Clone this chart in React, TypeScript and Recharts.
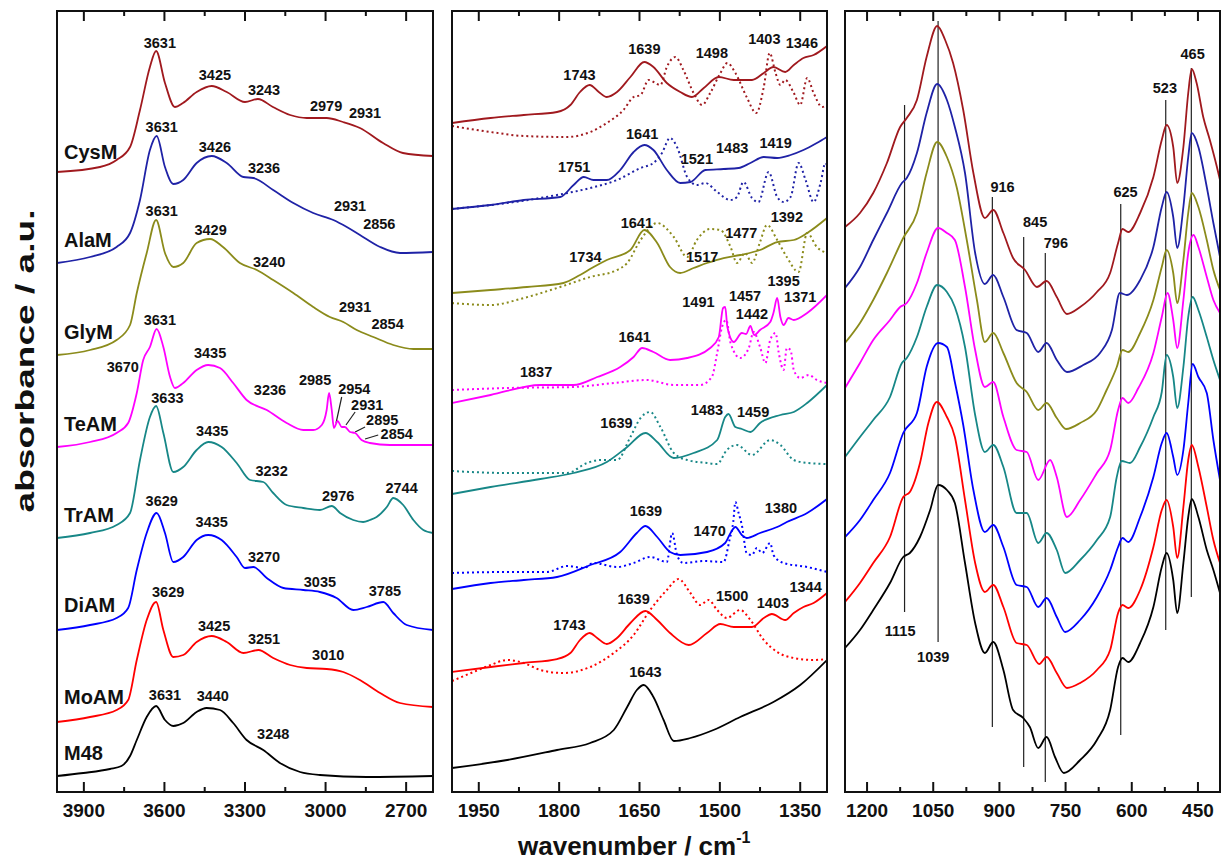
import { ComposedChart, Line, Scatter, XAxis, YAxis, ReferenceLine } from "recharts";

type Pt = [number, number];
type Tag = [string, number, number];

const FONT = '"Liberation Sans", Arial, Helvetica, sans-serif';
const PLOT_TOP = 11;
const PLOT_H = 781;
const CHART_H = 864;
const AXIS_H = 30;

const samples = ["CysM", "AlaM", "GlyM", "TeAM", "TrAM", "DiAM", "MoAM", "M48"];
const colors = ["#a0191e", "#1f22a6", "#8b8b1b", "#ff00ff", "#178787", "#0000ff", "#ff0000", "#000000"];
// vertical position (a.u.) of each sample name in the left panel
const nameLevels = [640, 552, 460, 368, 277, 187, 95, 39];

// ---- 4000-2600 cm-1 (OH / CH stretching) ----
const cysmOH: Pt[] = [[4000,620],[3840,625],[3778,632],[3728,645],[3691,682],[3654,725],[3631,741],[3598,709],[3561,685],[3531,689],[3480,700],[3424,706],[3368,700],[3300,690],[3252,693],[3196,685],[3132,677],[3070,674],[2996,674],[2935,670],[2872,664],[2786,649],[2712,639],[2600,636]];
const alamOH: Pt[] = [[4000,529],[3877,535],[3778,545],[3728,559],[3691,592],[3654,642],[3629,656],[3598,625],[3567,608],[3530,612],[3480,629],[3424,636],[3368,629],[3306,615],[3269,614],[3195,602],[3120,589],[3046,579],[2971,572],[2921,565],[2872,557],[2797,545],[2723,539],[2600,540]];
const glymOH: Pt[] = [[4000,437],[3877,442],[3778,452],[3728,467],[3703,499],[3666,539],[3631,572],[3598,539],[3567,525],[3530,529],[3480,549],[3430,553],[3382,545],[3319,529],[3256,522],[3195,512],[3120,499],[3046,485],[2984,475],[2934,470],[2884,462],[2822,455],[2748,447],[2673,443],[2600,443]];
const teamOH: Pt[] = [[4000,345],[3877,350],[3778,359],[3735,369],[3703,399],[3679,432],[3654,445],[3629,463],[3604,445],[3579,415],[3561,404],[3530,409],[3480,422],[3437,427],[3393,424],[3344,409],[3294,392],[3219,382],[3145,369],[3083,362],[3046,362],[3014,367],[2996,382],[2987,399],[2977,382],[2969,364],[2955,371],[2940,365],[2928,365],[2909,360],[2890,359],[2866,352],[2835,349],[2760,347],[2600,347]];
const tramOH: Pt[] = [[4000,254],[3877,259],[3778,267],[3728,279],[3691,332],[3654,375],[3631,386],[3604,359],[3567,320],[3530,325],[3480,342],[3437,350],[3387,345],[3331,329],[3281,312],[3232,310],[3195,299],[3145,287],[3083,284],[3021,282],[2977,286],[2946,279],[2897,272],[2860,270],[2835,272],[2810,275],[2772,285],[2748,294],[2711,287],[2673,272],[2636,262],[2600,259]];
const diamOH: Pt[] = [[4000,162],[3877,167],[3778,174],[3735,184],[3703,222],[3666,259],[3629,279],[3598,259],[3567,230],[3530,235],[3480,252],[3437,257],[3387,252],[3331,235],[3300,224],[3269,225],[3219,214],[3157,204],[3083,202],[3021,200],[2959,194],[2897,182],[2847,185],[2785,190],[2748,179],[2698,167],[2600,162]];
const moamOH: Pt[] = [[4000,70],[3877,75],[3778,82],[3735,92],[3703,132],[3666,172],[3631,190],[3604,162],[3567,135],[3530,137],[3480,150],[3424,156],[3368,150],[3306,139],[3250,142],[3195,134],[3132,127],[3070,124],[2996,123],[2934,120],[2872,112],[2797,99],[2723,89],[2600,85]];
const m48OH: Pt[] = [[4000,16],[3902,19],[3803,23],[3760,26],[3728,36],[3703,52],[3666,75],[3631,86],[3598,72],[3567,66],[3530,69],[3480,80],[3443,84],[3393,82],[3344,69],[3294,52],[3232,42],[3170,29],[3095,20],[3021,17],[2847,15],[2600,16]];

// ---- 2000-1300 cm-1, solid = sample, dotted = reference ----
const cysmMid: Pt[] = [[2000,669],[1928,674],[1866,677],[1804,680],[1779,687],[1761,700],[1743,707],[1726,700],[1711,695],[1692,700],[1667,715],[1641,730],[1624,725],[1599,709],[1574,700],[1552,695],[1530,704],[1502,715],[1474,712],[1440,712],[1418,719],[1400,725],[1378,720],[1362,727],[1344,734],[1325,737],[1300,746]];
const cysmRef: Pt[] = [[2000,666],[1928,660],[1866,656],[1785,655],[1742,660],[1711,669],[1680,682],[1661,695],[1648,697],[1633,712],[1611,707],[1599,725],[1583,735],[1568,722],[1549,699],[1533,687],[1518,699],[1499,719],[1486,729],[1471,719],[1450,695],[1432,679],[1418,705],[1407,739],[1396,719],[1387,707],[1378,712],[1362,699],[1350,687],[1337,714],[1325,699],[1309,685],[1300,687]];
const alamMid: Pt[] = [[2000,583],[1928,587],[1866,592],[1798,595],[1773,607],[1754,615],[1736,612],[1711,612],[1686,622],[1661,640],[1641,647],[1624,642],[1599,622],[1574,609],[1555,610],[1527,622],[1493,623],[1465,624],[1443,629],[1418,635],[1393,634],[1368,637],[1344,642],[1319,649],[1300,655]];
const alamRef: Pt[] = [[2000,583],[1897,589],[1804,597],[1742,604],[1692,612],[1648,624],[1624,629],[1608,639],[1593,654],[1580,645],[1561,615],[1543,607],[1527,609],[1505,600],[1480,592],[1468,595],[1456,610],[1440,594],[1428,590],[1409,620],[1393,595],[1381,590],[1368,595],[1353,629],[1340,612],[1325,590],[1312,609],[1303,629],[1300,627]];
const glymMid: Pt[] = [[2000,499],[1928,502],[1860,505],[1792,509],[1761,517],[1739,524],[1711,532],[1667,542],[1641,562],[1617,549],[1593,525],[1574,519],[1549,524],[1524,529],[1493,534],[1462,537],[1425,542],[1393,550],[1362,552],[1337,559],[1300,574]];
const glymRef: Pt[] = [[2000,489],[1928,487],[1866,494],[1804,504],[1742,515],[1692,522],[1673,529],[1648,552],[1617,569],[1586,555],[1561,535],[1543,552],[1518,563],[1499,562],[1480,545],[1468,529],[1453,539],[1440,529],[1425,550],[1412,567],[1393,552],[1375,535],[1353,520],[1337,559],[1319,545],[1300,539]];
const teamMid: Pt[] = [[2000,389],[1928,397],[1835,407],[1773,407],[1729,415],[1686,425],[1661,435],[1645,444],[1624,440],[1593,432],[1561,434],[1518,444],[1502,455],[1494,484],[1490,485],[1486,465],[1474,450],[1459,459],[1451,458],[1443,466],[1436,457],[1425,462],[1406,470],[1400,479],[1393,494],[1387,475],[1381,467],[1372,474],[1362,472],[1337,479],[1300,497]];
const teamRef: Pt[] = [[2000,402],[1897,404],[1773,405],[1698,409],[1636,412],[1586,407],[1537,407],[1515,415],[1505,439],[1496,465],[1488,472],[1480,449],[1462,434],[1446,444],[1437,460],[1425,445],[1415,429],[1406,452],[1396,459],[1390,439],[1381,422],[1375,444],[1368,442],[1362,422],[1350,414],[1334,417],[1319,412],[1300,409]];
const tramMid: Pt[] = [[2000,298],[1928,305],[1835,313],[1773,319],[1711,330],[1673,345],[1639,359],[1617,350],[1586,334],[1549,339],[1505,352],[1490,375],[1484,378],[1471,365],[1459,363],[1443,360],[1425,369],[1387,377],[1362,380],[1337,389],[1300,407]];
const tramRef: Pt[] = [[2000,321],[1897,319],[1785,319],[1748,329],[1723,332],[1692,332],[1667,355],[1648,374],[1630,380],[1611,365],[1586,339],[1561,332],[1524,329],[1505,328],[1487,342],[1468,347],[1440,337],[1406,352],[1387,347],[1362,332],[1337,329],[1300,328]];
const diamMid: Pt[] = [[2000,203],[1928,209],[1866,212],[1804,215],[1742,227],[1686,240],[1655,259],[1639,266],[1617,255],[1593,240],[1574,237],[1524,240],[1490,249],[1480,259],[1471,265],[1459,257],[1450,254],[1425,259],[1393,265],[1375,270],[1337,279],[1300,293]];
const diamRef: Pt[] = [[2000,219],[1897,220],[1823,220],[1785,226],[1754,224],[1736,229],[1692,225],[1661,229],[1630,235],[1599,230],[1589,259],[1580,237],[1568,229],[1530,231],[1493,230],[1482,252],[1475,270],[1471,290],[1465,279],[1459,267],[1450,239],[1440,237],[1431,244],[1421,239],[1406,249],[1400,237],[1381,229],[1337,225],[1300,220]];
const moamMid: Pt[] = [[2000,120],[1928,125],[1866,129],[1804,133],[1779,139],[1761,152],[1743,159],[1729,154],[1711,148],[1692,154],[1667,169],[1639,181],[1617,172],[1593,159],[1558,147],[1524,159],[1499,168],[1474,165],[1440,165],[1418,174],[1403,178],[1378,172],[1362,179],[1344,185],[1325,189],[1300,199]];
const moamRef: Pt[] = [[2000,111],[1960,120],[1928,127],[1897,132],[1866,129],[1835,122],[1792,119],[1742,125],[1698,139],[1661,157],[1630,182],[1599,202],[1577,213],[1555,199],[1537,187],[1521,192],[1505,182],[1487,174],[1462,182],[1443,172],[1418,152],[1393,140],[1362,134],[1325,132],[1300,133]];
const m48Mid: Pt[] = [[2000,24],[1897,32],[1804,42],[1742,49],[1698,62],[1673,85],[1655,102],[1642,107],[1624,95],[1605,72],[1586,51],[1555,54],[1512,62],[1462,75],[1400,90],[1350,107],[1300,132]];

// ---- 1250-400 cm-1 (framework) ----
const cysmLow: Pt[] = [[1250,565],[1216,579],[1186,599],[1155,629],[1125,665],[1110,674],[1087,692],[1065,735],[1041,766],[1023,752],[1005,729],[982,682],[959,619],[933,574],[914,582],[891,559],[869,534],[842,522],[815,505],[793,511],[770,495],[747,478],[717,485],[679,500],[649,519],[631,549],[621,563],[608,560],[581,579],[551,615],[532,652],[521,667],[506,645],[497,609],[483,645],[472,699],[464,723],[453,709],[438,675],[423,652],[407,625],[400,612]];
const alamLow: Pt[] = [[1250,504],[1216,525],[1186,552],[1155,579],[1121,609],[1110,614],[1087,639],[1065,679],[1041,708],[1019,692],[1001,665],[978,619],[955,539],[933,508],[914,517],[891,495],[861,462],[838,459],[812,440],[793,449],[770,432],[747,420],[710,427],[672,439],[645,462],[627,499],[611,497],[581,512],[551,545],[532,585],[521,600],[506,575],[497,544],[483,585],[472,635],[464,659],[449,645],[430,605],[415,569],[400,535]];
const glymLow: Pt[] = [[1250,449],[1216,469],[1186,492],[1155,519],[1118,554],[1087,579],[1065,619],[1041,650],[1019,635],[997,605],[974,552],[951,492],[933,450],[914,459],[891,439],[861,409],[838,400],[812,382],[793,389],[770,374],[749,363],[717,369],[679,382],[657,402],[634,425],[621,442],[608,440],[581,459],[551,492],[532,525],[521,542],[506,519],[497,489],[483,532],[472,579],[464,599],[449,585],[430,552],[415,522],[400,502]];
const teamLow: Pt[] = [[1250,404],[1216,429],[1186,452],[1148,472],[1125,485],[1110,489],[1087,509],[1065,539],[1039,564],[1019,559],[1001,552],[978,505],[955,442],[933,405],[914,410],[891,375],[861,342],[838,340],[812,312],[785,332],[770,315],[747,275],[717,292],[679,319],[649,342],[631,382],[621,394],[608,389],[585,404],[551,439],[532,475],[519,499],[506,472],[497,444],[483,492],[472,539],[460,557],[449,545],[430,515],[415,492],[400,479]];
const tramLow: Pt[] = [[1250,335],[1216,355],[1186,372],[1148,395],[1121,429],[1110,434],[1087,455],[1065,485],[1041,507],[1019,500],[1001,485],[978,445],[955,377],[933,340],[914,347],[891,325],[861,279],[838,279],[812,249],[793,259],[770,242],[751,219],[717,232],[679,252],[649,275],[634,315],[623,331],[604,329],[581,345],[551,375],[532,400],[521,437],[506,415],[497,384],[483,425],[472,475],[462,495],[449,482],[430,455],[415,432],[400,412]];
const diamLow: Pt[] = [[1250,255],[1216,272],[1186,292],[1148,319],[1118,359],[1087,379],[1065,425],[1039,449],[1019,445],[1001,410],[982,367],[959,302],[933,260],[914,267],[891,245],[861,207],[838,205],[812,185],[793,194],[770,175],[751,160],[717,172],[679,195],[649,222],[631,245],[621,254],[608,250],[581,275],[551,315],[532,349],[521,359],[506,335],[497,317],[483,342],[472,389],[462,428],[449,415],[430,399],[415,352],[400,312]];
const moamLow: Pt[] = [[1250,190],[1216,209],[1186,229],[1148,255],[1118,295],[1103,300],[1080,329],[1061,369],[1042,390],[1019,375],[1001,355],[978,292],[955,229],[933,200],[914,207],[891,185],[861,149],[838,147],[810,128],[793,135],[770,119],[747,104],[717,109],[679,122],[649,142],[631,179],[621,187],[608,184],[581,202],[551,245],[532,282],[521,292],[506,265],[497,234],[483,285],[472,332],[464,347],[449,325],[430,285],[415,252],[400,229]];
const m48Low: Pt[] = [[1250,144],[1216,162],[1186,182],[1148,209],[1118,235],[1103,239],[1080,255],[1057,282],[1039,307],[1019,302],[1001,289],[978,229],[955,169],[933,139],[914,150],[891,122],[869,82],[846,74],[831,65],[812,44],[793,55],[774,35],[754,19],[717,32],[679,52],[649,82],[631,125],[621,134],[608,130],[581,149],[551,185],[532,225],[521,239],[506,212],[497,179],[483,229],[472,275],[464,293],[449,275],[430,242],[415,222],[400,199]];

// peak labels [text, wavenumber, level]
const tagsOH: Tag[] = [
  ["3631",3617,749],["3425",3412,717],["3243",3229,702],["2979",2998,686],["2931",2853,679],
  ["3631",3610,665],["3426",3412,645],["3236",3229,624],["2931",2909,586],["2856",2800,568],
  ["3631",3610,581],["3429",3428,562],["3240",3210,530],["2931",2890,485],["2854",2769,468],
  ["3631",3617,472],["3670",3755,425],["3435",3430,439],["3236",3207,402],["2985",3039,412],
  ["2954",2893,403],["2931",2845,387],["2895",2789,372],["2854",2735,358],
  ["3633",3589,394],["3435",3422,361],["3232",3201,321],["2976",2953,296],["2744",2717,304],
  ["3629",3610,291],["3435",3424,270],["3270",3229,235],["3035",3021,210],["3785",2779,201],
  ["3629",3586,200],["3425",3415,166],["3251",3229,153],["3010",2990,137],
  ["3631",3598,97],["3440",3420,96],["3248",3195,58],
];
// leader lines for the TeAM CH bands [w1, h1, w2, h2]
const leadersOH = [[2940,395,2961,369],[2890,380,2924,367],[2853,365,2890,360],[2804,357,2853,353]];

const tagsMid: Tag[] = [
  ["1639",1641,743],["1743",1762,717],["1498",1515,739],["1403",1417,753],["1346",1347,749],
  ["1641",1645,658],["1751",1772,625],["1521",1543,633],["1483",1477,644],["1419",1396,649],
  ["1641",1655,569],["1734",1751,535],["1517",1533,535],["1477",1460,559],["1392",1375,575],
  ["1395",1381,511],["1491",1540,490],["1457",1453,496],["1371",1350,495],["1442",1440,478],
  ["1641",1659,455],["1837",1843,420],
  ["1483",1524,382],["1459",1438,380],["1639",1693,369],
  ["1639",1638,281],["1380",1386,284],["1470",1519,261],
  ["1500",1477,196],["1344",1340,205],["1403",1401,189],["1639",1661,193],["1743",1781,167],
  ["1643",1639,120],
];

const tagsLow: Tag[] = [
  ["916",893,605],["845",819,570],["796",772,549],["625",614,600],["523",525,704],["465",462,738],
  ["1115",1125,161],["1039",1050,135],
];
// band markers [wavenumber, bottom level, top level]
const bandLines = [[1115,180,687],[1039,150,771],[916,65,595],[845,25,555],[796,10,539],[625,57,588],[523,162,692],[465,195,724]];

type Panel = {
  left: number;
  width: number;
  mLeft: number;
  mRight: number;
  domain: [number, number];
  majors: number[];
  minors: number[];
  solid: Pt[][];
  dotted: Pt[][];
  tags: Tag[];
  segs: number[][];
  names?: boolean;
};

const panels: Panel[] = [
  {
    left: 0, width: 460, mLeft: 57, mRight: 27, domain: [2600, 4000],
    majors: [3900, 3600, 3300, 3000, 2700], minors: [3750, 3450, 3150, 2850],
    solid: [cysmOH, alamOH, glymOH, teamOH, tramOH, diamOH, moamOH, m48OH],
    dotted: [], tags: tagsOH, segs: leadersOH, names: true,
  },
  {
    left: 440, width: 400, mLeft: 12, mRight: 13, domain: [1300, 2000],
    majors: [1950, 1800, 1650, 1500, 1350], minors: [1875, 1725, 1575, 1425],
    solid: [cysmMid, alamMid, glymMid, teamMid, tramMid, diamMid, moamMid, m48Mid],
    dotted: [cysmRef, alamRef, glymRef, teamRef, tramRef, diamRef, moamRef],
    tags: tagsMid, segs: [],
  },
  {
    left: 833, width: 388, mLeft: 12, mRight: 1, domain: [400, 1250],
    majors: [1200, 1050, 900, 750, 600, 450], minors: [1125, 975, 825, 675, 525],
    solid: [cysmLow, alamLow, glymLow, teamLow, tramLow, diamLow, moamLow, m48Low],
    dotted: [], tags: tagsLow,
    segs: bandLines.map(([w, a, b]) => [w, a, w, b]),
  },
];

const toRows = (pts: Pt[]) => pts.map(([w, h]) => ({ w, h }));

function makeTick(majors: number[]) {
  return (p: any) => {
    const { x, y, payload } = p;
    const major = majors.includes(payload.value);
    const len = major ? 10 : 5;
    return (
      <g>
        <line x1={x} x2={x} y1={y} y2={y - len} stroke="#111" strokeWidth={2} />
        <line x1={x} x2={x} y1={y - PLOT_H} y2={y - PLOT_H + len} stroke="#111" strokeWidth={2} />
        {major && (
          <text x={x} y={y + 25} textAnchor="middle" fontSize={19} fontWeight={700} fontFamily={FONT} fill="#111">
            {payload.value}
          </text>
        )}
      </g>
    );
  };
}

const TagShape = (p: any) => (
  <text
    x={p.cx}
    y={p.cy}
    textAnchor={p.payload.anchor}
    dominantBaseline="central"
    fontSize={p.payload.size}
    fontWeight={700}
    fontFamily={FONT}
    fill="#111"
  >
    {p.payload.t}
  </text>
);

function SpectrumPanel({ cfg }: { cfg: Panel }) {
  const tagRows = cfg.tags.map(([t, w, h]) => ({ t, w, h, size: 14.5, anchor: "middle" }));
  if (cfg.names) {
    samples.forEach((s, i) => tagRows.push({ t: s, w: 3974, h: nameLevels[i], size: 20, anchor: "start" }));
  }
  const plotW = cfg.width - cfg.mLeft - cfg.mRight;
  return (
    <div style={{ position: "absolute", left: cfg.left, top: 0, width: cfg.width, height: CHART_H }}>
      <ComposedChart
        width={cfg.width}
        height={CHART_H}
        margin={{ top: PLOT_TOP, left: cfg.mLeft, right: cfg.mRight, bottom: CHART_H - PLOT_TOP - PLOT_H - AXIS_H }}
      >
        <XAxis
          type="number"
          dataKey="w"
          domain={cfg.domain}
          reversed
          allowDataOverflow
          ticks={[...cfg.majors, ...cfg.minors].sort((a, b) => a - b)}
          interval={0}
          height={AXIS_H}
          axisLine={false}
          tickLine={false}
          tickSize={0}
          tickMargin={0}
          tick={makeTick(cfg.majors)}
        />
        <YAxis type="number" dataKey="h" domain={[0, PLOT_H]} allowDataOverflow hide width={0} />
        {cfg.segs.map(([w1, h1, w2, h2], i) => (
          <ReferenceLine
            key={`s${i}`}
            segment={[{ x: w1, y: h1 }, { x: w2, y: h2 }]}
            stroke="#222"
            strokeWidth={1.2}
            ifOverflow="visible"
          />
        ))}
        {cfg.dotted.map((pts, i) => (
          <Line
            key={`d${i}`}
            data={toRows(pts)}
            dataKey="h"
            type="monotone"
            stroke={colors[i]}
            strokeWidth={2}
            strokeDasharray="2 3"
            dot={false}
            isAnimationActive={false}
          />
        ))}
        {cfg.solid.map((pts, i) => (
          <Line
            key={`l${i}`}
            data={toRows(pts)}
            dataKey="h"
            type="monotone"
            stroke={colors[i]}
            strokeWidth={1.8}
            dot={false}
            isAnimationActive={false}
          />
        ))}
        <Scatter data={tagRows} dataKey="h" shape={TagShape} isAnimationActive={false} />
      </ComposedChart>
      <div
        style={{
          position: "absolute",
          left: cfg.mLeft - 1,
          top: PLOT_TOP - 1,
          width: plotW + 2,
          height: PLOT_H + 2,
          border: "2px solid #111",
          boxSizing: "border-box",
          pointerEvents: "none",
        }}
      />
    </div>
  );
}

export default function App() {
  return (
    <div style={{ position: "absolute", left: 0, top: 0, width: 1221, height: 864, background: "#fff", fontFamily: FONT }}>
      {panels.map((p, i) => (
        <SpectrumPanel key={i} cfg={p} />
      ))}
      <svg width={1221} height={864} style={{ position: "absolute", left: 0, top: 0, pointerEvents: "none" }}>
        <text
          transform="translate(25,361) rotate(-90)"
          textAnchor="middle"
          dominantBaseline="central"
          fontSize={26}
          fontWeight={700}
          fontFamily={FONT}
          fill="#111"
          textLength={303}
          lengthAdjust="spacingAndGlyphs"
        >
          absorbance / a.u.
        </text>
        <text x={518} y={855} fontSize={26} fontWeight={700} fontFamily={FONT} fill="#111">
          wavenumber / cm
          <tspan dy={-12} fontSize={16}>-1</tspan>
        </text>
      </svg>
    </div>
  );
}
